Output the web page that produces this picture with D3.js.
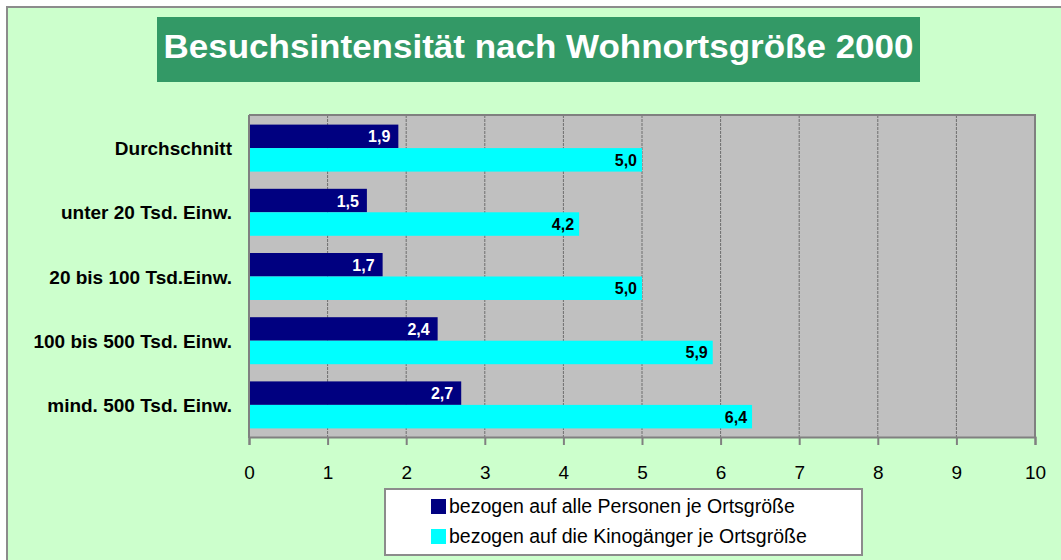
<!DOCTYPE html>
<html>
<head>
<meta charset="utf-8">
<script src="https://cdn.jsdelivr.net/npm/d3@7"></script>
<style>
  html, body { margin: 0; padding: 0; background: #ffffff; }
  svg { display: block; font-family: "Liberation Sans", Arial, sans-serif; }
</style>
</head>
<body>
<svg id="chart" width="1061" height="560"></svg>
<script>
const title = "Besuchsintensität nach Wohnortsgröße 2000";
const categories = ["Durchschnitt", "unter 20 Tsd. Einw.", "20 bis 100 Tsd.Einw.", "100 bis 500 Tsd. Einw.", "mind. 500 Tsd. Einw."];
const seriesNames = ["bezogen auf alle Personen je Ortsgröße", "bezogen auf die Kinogänger je Ortsgröße"];
const allePersonen = [1.9, 1.5, 1.7, 2.4, 2.7];
const kinogaenger = [5.0, 4.2, 5.0, 5.9, 6.4];
const xTicks = [0, 1, 2, 3, 4, 5, 6, 7, 8, 9, 10];

const colors = ["#000080", "#00FFFF"];
const labelColors = ["#ffffff", "#000000"];
const seriesValues = [allePersonen, kinogaenger];

const svg = d3.select("#chart");

// outer frame
svg.append("rect").attr("x", 7).attr("y", 7).attr("width", 1100).attr("height", 600)
  .attr("fill", "#CCFFCC").attr("stroke", "#8c8c8c").attr("stroke-width", 2);

// title box
svg.append("rect").attr("x", 157).attr("y", 17).attr("width", 763).attr("height", 65).attr("fill", "#339966");
svg.append("text").attr("x", 538.5).attr("y", 58).attr("text-anchor", "middle")
  .attr("fill", "#ffffff").attr("font-weight", "bold").attr("font-size", 33)
  .attr("textLength", 750).attr("lengthAdjust", "spacingAndGlyphs")
  .text(title);

const plot = { left: 249, right: 1035, top: 115, bottom: 437 };

const x = d3.scaleLinear().domain([0, 10]).range([plot.left, plot.right]);
const y = d3.scaleBand().domain(categories).range([116, plot.bottom]).paddingInner(0.268).paddingOuter(0.134);
const ySub = d3.scaleBand().domain(d3.range(seriesNames.length)).range([0, y.bandwidth()]).padding(0);

// plot background
svg.append("rect").attr("x", plot.left).attr("y", plot.top)
  .attr("width", plot.right - plot.left).attr("height", plot.bottom - plot.top)
  .attr("fill", "#C0C0C0");

// gridlines
svg.append("g").selectAll("line").data(xTicks.filter(t => t > 0 && t < 10)).join("line")
  .attr("x1", d => x(d)).attr("x2", d => x(d))
  .attr("y1", plot.top).attr("y2", plot.bottom)
  .attr("stroke", "#6e6e6e").attr("stroke-width", 1).attr("stroke-dasharray", "3,1");

// bars
const rows = [];
categories.forEach((c, i) => {
  seriesValues.forEach((vals, s) => rows.push({ cat: c, s: s, v: vals[i] }));
});

svg.append("g").selectAll("rect").data(rows).join("rect")
  .attr("x", x(0))
  .attr("y", d => y(d.cat) + ySub(d.s))
  .attr("width", d => x(d.v) - x(0))
  .attr("height", ySub.bandwidth())
  .attr("fill", d => colors[d.s]);

// value labels
const fmt = v => d3.format(".1f")(v).replace(".", ",");
svg.append("g").selectAll("text").data(rows).join("text")
  .attr("x", d => x(d.v) - (d.s === 0 ? 8 : 5))
  .attr("y", d => y(d.cat) + ySub(d.s) + ySub.bandwidth() / 2 + 6)
  .attr("text-anchor", "end")
  .attr("font-weight", "bold").attr("font-size", 16)
  .attr("fill", d => labelColors[d.s])
  .text(d => fmt(d.v));

// plot border (top/right)
svg.append("path")
  .attr("d", `M${plot.left},${plot.top}H${plot.right}V${plot.bottom}`)
  .attr("fill", "none").attr("stroke", "#808080").attr("stroke-width", 2);

// x axis
const xAxis = svg.append("g").attr("transform", `translate(0,${plot.bottom})`)
  .call(d3.axisBottom(x).tickValues(xTicks).tickSize(8).tickPadding(21).tickFormat(d3.format("d")));
xAxis.select(".domain").attr("stroke", "#808080").attr("stroke-width", 2);
xAxis.selectAll(".tick line").attr("stroke", "#808080").attr("stroke-width", 2);
xAxis.selectAll(".tick text").attr("font-size", 19).attr("fill", "#000")
  .attr("font-family", "'Liberation Sans', Arial, sans-serif");

// y axis line
svg.append("line").attr("x1", plot.left).attr("x2", plot.left)
  .attr("y1", plot.top).attr("y2", plot.bottom + 1)
  .attr("stroke", "#808080").attr("stroke-width", 2);

// category labels
svg.append("g").selectAll("text").data(categories).join("text")
  .attr("x", 232)
  .attr("y", d => y(d) + y.bandwidth() / 2 + 7)
  .attr("text-anchor", "end")
  .attr("font-weight", "bold").attr("font-size", 19)
  .attr("fill", "#000")
  .text(d => d);

// legend
const lg = svg.append("g");
lg.append("rect").attr("x", 385).attr("y", 489).attr("width", 477).attr("height", 66)
  .attr("fill", "#ffffff").attr("stroke", "#8c8c8c").attr("stroke-width", 2);
const items = lg.selectAll("g.item").data(seriesNames).join("g").attr("class", "item")
  .attr("transform", (d, i) => `translate(431,${499 + i * 30})`);
items.append("rect").attr("width", 15).attr("height", 15).attr("fill", (d, i) => colors[i]);
items.append("text").attr("x", 18).attr("y", 14).attr("font-size", 19.5).attr("fill", "#000").text(d => d);
</script>
</body>
</html>
